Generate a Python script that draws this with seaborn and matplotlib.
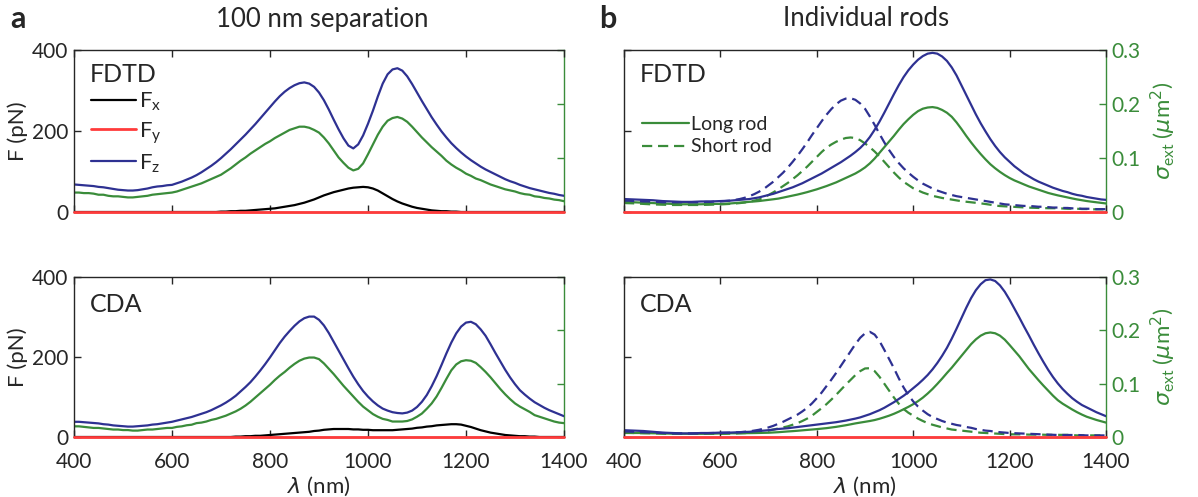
import matplotlib
matplotlib.use("Agg")
import matplotlib.pyplot as plt
from matplotlib.lines import Line2D
import seaborn as sns

# ---------------------------------------------------------------- data
LAMBDA = list(range(400, 1401, 10))  # wavelength grid (nm)

# (a) dimer, 100 nm separation -- FDTD
A_FDTD_FX = [0] * 30 + [
    1, 1, 2, 2, 3, 3, 4, 5, 6, 7,
    8, 9, 11, 13, 15, 17, 20, 23, 27, 31,
    36, 41, 45, 49, 52, 55, 58, 60, 61, 62,
    61, 58, 53, 46, 39, 32, 26, 21, 17, 13,
    10, 8, 6, 4, 3, 2, 2, 1, 1] + [0] * 22
A_FDTD_FZ = [68, 67, 66, 65, 64, 62, 61, 59, 57, 55, 54,
             53, 53, 54, 56, 58, 61, 63, 64, 66, 67,
             71, 75, 80, 85, 91, 98, 106, 114, 123, 133,
             144, 155, 167, 179, 191, 204, 217, 231, 245, 259,
             273, 286, 297, 306, 313, 318, 320, 317, 309, 295,
             276, 253, 228, 204, 182, 164, 157, 167, 189, 218,
             250, 285, 317, 340, 352, 355, 349, 335, 316, 295,
             274, 254, 234, 216, 199, 184, 170, 158, 147, 137,
             128, 120, 112, 105, 99, 93, 87, 81, 76, 72,
             67, 63, 59, 56, 53, 50, 47, 45, 42, 40]
A_FDTD_SIG = [0.036, 0.036, 0.035, 0.035, 0.034, 0.032, 0.032, 0.030, 0.029, 0.029, 0.028,
              0.027, 0.027, 0.028, 0.029, 0.030, 0.032, 0.033, 0.034, 0.035, 0.036,
              0.038, 0.041, 0.044, 0.047, 0.050, 0.053, 0.057, 0.061, 0.065, 0.069,
              0.075, 0.081, 0.088, 0.095, 0.101, 0.108, 0.114, 0.120, 0.126, 0.131,
              0.137, 0.142, 0.147, 0.152, 0.155, 0.158, 0.158, 0.156, 0.152, 0.147,
              0.138, 0.127, 0.114, 0.101, 0.091, 0.082, 0.077, 0.080, 0.090, 0.107,
              0.125, 0.143, 0.158, 0.169, 0.174, 0.176, 0.173, 0.167, 0.158, 0.148,
              0.138, 0.129, 0.120, 0.112, 0.104, 0.095, 0.088, 0.082, 0.077, 0.071,
              0.067, 0.062, 0.059, 0.055, 0.051, 0.048, 0.045, 0.042, 0.040, 0.038,
              0.035, 0.033, 0.032, 0.029, 0.028, 0.026, 0.025, 0.023, 0.022, 0.020]

# (a) dimer, 100 nm separation -- CDA
A_CDA_FX = [0] * 33 + [
    1, 1, 2, 2, 3, 3, 4,
    5, 6, 7, 8, 9, 10, 11, 12, 13, 15,
    16, 18, 19, 20, 20, 20, 20, 19, 19, 18,
    18, 17, 17, 17, 17, 17, 18, 19, 20, 21,
    23, 24, 26, 27, 29, 30, 31, 32, 32, 31,
    28, 25, 21, 17, 14, 11, 9, 7, 5, 4,
    3, 2, 2, 1, 1] + [0] * 6
A_CDA_FZ = [38, 38, 37, 36, 35, 34, 32, 31, 29, 28, 27,
            26, 26, 27, 28, 29, 31, 32, 34, 36, 38,
            41, 44, 47, 50, 54, 58, 62, 67, 73, 79,
            86, 94, 103, 114, 125, 137, 151, 166, 182, 199,
            217, 235, 251, 265, 278, 289, 297, 301, 301, 293,
            279, 260, 238, 216, 194, 172, 151, 132, 115, 101,
            89, 79, 71, 66, 62, 60, 59, 61, 66, 75,
            88, 105, 127, 152, 180, 209, 236, 259, 276, 286,
            288, 282, 269, 253, 232, 210, 189, 168, 149, 132,
            117, 106, 96, 87, 80, 73, 67, 62, 57, 52]
A_CDA_SIG = [0.020, 0.020, 0.019, 0.018, 0.017, 0.017, 0.016, 0.015, 0.014, 0.014, 0.013,
             0.013, 0.012, 0.012, 0.013, 0.014, 0.014, 0.015, 0.016, 0.017, 0.017,
             0.019, 0.020, 0.022, 0.023, 0.026, 0.027, 0.029, 0.032, 0.034, 0.037,
             0.040, 0.044, 0.048, 0.053, 0.059, 0.066, 0.074, 0.082, 0.090, 0.098,
             0.107, 0.115, 0.122, 0.130, 0.137, 0.143, 0.147, 0.149, 0.149, 0.146,
             0.138, 0.128, 0.118, 0.107, 0.096, 0.086, 0.076, 0.066, 0.057, 0.050,
             0.043, 0.038, 0.034, 0.032, 0.029, 0.029, 0.029, 0.030, 0.033, 0.038,
             0.044, 0.053, 0.063, 0.076, 0.092, 0.109, 0.125, 0.136, 0.142, 0.144,
             0.143, 0.139, 0.131, 0.122, 0.112, 0.101, 0.090, 0.080, 0.071, 0.063,
             0.057, 0.052, 0.047, 0.041, 0.038, 0.035, 0.032, 0.029, 0.027, 0.026]

# (b) individual rods -- FDTD
B_FDTD_FZ_LONG = [32, 31.5, 31, 30.5, 30, 29.5, 29, 28, 27, 26.5, 26,
                  25.5, 25, 25, 25, 25.5, 26, 26, 26, 26.5, 27,
                  27.5, 28, 29, 30, 31, 32, 34, 36, 39, 42,
                  45, 49, 53, 57, 61, 66, 71, 77, 83, 89,
                  95, 102, 109, 116, 123, 131, 139, 148, 158, 170,
                  185, 203, 223, 245, 268, 291, 313, 333, 350, 364,
                  376, 385, 391, 393, 391, 384, 373, 357, 337, 313,
                  289, 265, 241, 219, 199, 180, 163, 148, 135, 124,
                  113, 104, 95, 88, 81, 75, 70, 65, 60, 56,
                  52, 49, 45, 42, 40, 37, 35, 33, 31, 30]
B_FDTD_FZ_SHORT = [28, 28, 27, 27, 26, 26, 25, 25, 24, 24, 24,
                   24, 24, 24, 24, 24, 24, 25, 25, 26, 26,
                   27, 28, 30, 32, 35, 39, 44, 50, 57, 66,
                   75, 86, 97, 110, 124, 139, 155, 172, 190, 207,
                   224, 240, 254, 266, 275, 280, 281, 277, 268, 255,
                   236, 215, 193, 172, 153, 136, 121, 108, 97, 87,
                   78, 70, 64, 58, 53, 49, 45, 42, 39, 37,
                   35, 33, 31, 29, 27, 25, 23, 21, 19, 18,
                   17, 16, 15, 15, 14, 13, 13, 12, 11, 11,
                   10, 10, 9, 9, 8, 8, 8, 7, 7, 7]
B_FDTD_SIG_LONG = [0.0188, 0.0184, 0.018, 0.0176, 0.0173, 0.0169, 0.0165, 0.0161, 0.0158, 0.0154, 0.015,
                   0.0146, 0.0143, 0.0143, 0.0143, 0.0143, 0.0143, 0.0146, 0.015, 0.015, 0.015,
                   0.0154, 0.0158, 0.0165, 0.0173, 0.018, 0.0188, 0.0195, 0.0203, 0.0214, 0.0225,
                   0.0236, 0.0248, 0.0266, 0.0285, 0.0304, 0.0323, 0.0345, 0.0368, 0.0394, 0.042,
                   0.045, 0.048, 0.0514, 0.0548, 0.0589, 0.063, 0.0671, 0.0713, 0.0765, 0.0825,
                   0.09, 0.099, 0.1095, 0.12, 0.1305, 0.141, 0.1523, 0.1628, 0.1718, 0.18,
                   0.1868, 0.1913, 0.1935, 0.1943, 0.1928, 0.189, 0.1838, 0.1763, 0.1658, 0.1538,
                   0.141, 0.129, 0.1178, 0.1073, 0.0975, 0.0885, 0.081, 0.0743, 0.0683, 0.063,
                   0.0585, 0.0548, 0.051, 0.0473, 0.0443, 0.0413, 0.0383, 0.0353, 0.033, 0.0308,
                   0.0289, 0.027, 0.0251, 0.0233, 0.0218, 0.0203, 0.0191, 0.018, 0.0169, 0.0158]
B_FDTD_SIG_SHORT = [0.0165, 0.0163, 0.016, 0.0155, 0.015, 0.0145, 0.014, 0.0138, 0.0135, 0.0133, 0.013,
                    0.013, 0.013, 0.013, 0.013, 0.013, 0.013, 0.0133, 0.0135, 0.0138, 0.014,
                    0.0145, 0.015, 0.0157, 0.0165, 0.0175, 0.019, 0.021, 0.023, 0.027, 0.0315,
                    0.0365, 0.042, 0.048, 0.054, 0.061, 0.068, 0.076, 0.084, 0.093, 0.102,
                    0.111, 0.119, 0.125, 0.130, 0.134, 0.137, 0.138, 0.137, 0.133, 0.127,
                    0.120, 0.112, 0.103, 0.093, 0.083, 0.073, 0.064, 0.056, 0.050, 0.044,
                    0.040, 0.036, 0.033, 0.030, 0.028, 0.026, 0.0245, 0.023, 0.0215, 0.020,
                    0.019, 0.018, 0.017, 0.016, 0.0148, 0.0135, 0.012, 0.011, 0.0105, 0.010,
                    0.0095, 0.009, 0.0085, 0.008, 0.0078, 0.0075, 0.0073, 0.007, 0.007, 0.007,
                    0.0065, 0.006, 0.006, 0.006, 0.0055, 0.0055, 0.005, 0.005, 0.005, 0.005]

# (b) individual rods -- CDA
B_CDA_FZ_LONG = [17, 16.5, 16, 15.5, 15, 14, 13, 12, 11, 10.5, 10,
                 9.5, 9, 9, 9, 9.5, 10, 10, 10, 10.5, 11,
                 11, 11, 11.5, 12, 12.5, 13, 14, 15, 16, 17,
                 18.5, 20, 21, 22, 23.5, 25, 26.5, 28, 29.5, 31,
                 32.5, 34, 35.5, 37, 39, 41, 43.5, 46, 49, 53,
                 57, 62, 67, 73, 80, 87, 95, 103, 112, 122,
                 132, 143, 155, 169, 185, 203, 223, 246, 271, 297,
                 323, 347, 367, 382, 392, 394, 390, 379, 363, 343,
                 321, 299, 276, 254, 231, 209, 188, 168, 150, 134,
                 120, 108, 97, 88, 80, 74, 68, 62, 57, 52]
B_CDA_FZ_SHORT = [14, 13.5, 13, 12.5, 12, 11.5, 11, 10.5, 10, 9.5, 9,
                  9, 9, 9, 9, 9, 9, 9.5, 10, 10, 10,
                  10.5, 11, 11.5, 12, 13, 14, 16, 18, 21, 24,
                  28, 33, 38, 44, 50, 56, 64, 73, 84, 97,
                  111, 127, 143, 160, 178, 196, 214, 232, 248, 259,
                  263, 256, 240, 218, 195, 172, 147, 124, 105, 89,
                  76, 66, 57, 50, 45, 40, 36, 33, 30, 28,
                  25, 23, 20, 18, 16, 15, 13, 12, 11, 10,
                  9.5, 9, 8.5, 8, 7.5, 7, 6.5, 6, 5.5, 5,
                  5, 5, 5, 5, 4.5, 4, 4, 4, 4, 4]
B_CDA_SIG_LONG = [0.008, 0.0078, 0.0075, 0.0075, 0.0075, 0.0073, 0.007, 0.007, 0.0068, 0.0064, 0.0062,
                  0.006, 0.006, 0.006, 0.006, 0.006, 0.006, 0.006, 0.0062, 0.0064, 0.0066,
                  0.0068, 0.007, 0.007, 0.0071, 0.0072, 0.0073, 0.0074, 0.0076, 0.0078, 0.008,
                  0.0085, 0.009, 0.0097, 0.0104, 0.011, 0.0117, 0.0125, 0.0133, 0.014, 0.0148,
                  0.0157, 0.0166, 0.0178, 0.019, 0.0205, 0.022, 0.0237, 0.0255, 0.027, 0.0285,
                  0.030, 0.0318, 0.0342, 0.037, 0.040, 0.0435, 0.0475, 0.052, 0.0565, 0.0615,
                  0.0672, 0.0738, 0.0815, 0.090, 0.0995, 0.1095, 0.120, 0.130, 0.141, 0.152,
                  0.163, 0.174, 0.183, 0.190, 0.1945, 0.196, 0.1945, 0.190, 0.1825, 0.1725,
                  0.162, 0.1515, 0.1395, 0.1275, 0.117, 0.1065, 0.0965, 0.087, 0.0775, 0.069,
                  0.0625, 0.057, 0.0515, 0.0465, 0.042, 0.038, 0.035, 0.032, 0.0295, 0.027]
B_CDA_SIG_SHORT = [0.0075, 0.0075, 0.0075, 0.0073, 0.007, 0.007, 0.007, 0.0065, 0.0062, 0.006, 0.006,
                   0.006, 0.006, 0.006, 0.006, 0.006, 0.006, 0.006, 0.006, 0.006, 0.006,
                   0.006, 0.0062, 0.0065, 0.007, 0.0073, 0.0077, 0.0083, 0.009, 0.0103, 0.012,
                   0.014, 0.016, 0.018, 0.020, 0.023, 0.026, 0.030, 0.0345, 0.040, 0.047,
                   0.054, 0.0615, 0.070, 0.079, 0.0885, 0.098, 0.107, 0.116, 0.1235, 0.1285,
                   0.129, 0.1235, 0.113, 0.100, 0.087, 0.074, 0.0625, 0.0525, 0.0455, 0.040,
                   0.0345, 0.030, 0.026, 0.023, 0.0205, 0.018, 0.016, 0.014, 0.013, 0.012,
                   0.011, 0.010, 0.009, 0.008, 0.0075, 0.007, 0.0065, 0.006, 0.0055, 0.005,
                   0.005, 0.005, 0.0048, 0.0045, 0.0045, 0.0045, 0.0043, 0.004, 0.004, 0.004,
                   0.004, 0.004, 0.0035, 0.003, 0.003, 0.003, 0.003, 0.003, 0.003, 0.003]

# F_y vanishes by symmetry in every configuration
FY = [0.0] * len(LAMBDA)

X_TICKS = [400, 600, 800, 1000, 1200, 1400]
F_TICKS = [0, 200, 400]
SIG_TICKS = [0, 0.1, 0.2, 0.3]
SIG_TICKLABELS = ["0", "0.1", "0.2", "0.3"]

# ---------------------------------------------------------------- style
BLUE = "#2e3192"
GREEN = "#3a8c3a"
RED = "#ff3b3b"
BLACK = "black"
LW = 1.6
DASH = (0, (4.6, 2.6))
TICK_FS = 15

sns.set_style("ticks")
plt.rcParams["font.family"] = ["Lato", "DejaVu Sans"]
plt.rcParams["mathtext.fontset"] = "dejavusans"
plt.rcParams["axes.linewidth"] = 1.0

W, H = 1198, 497
fig = plt.figure(figsize=(W / 100, H / 100), dpi=100)


def box(x0, y0, x1, y1):
    return [x0 / W, 1 - y1 / H, (x1 - x0) / W, (y1 - y0) / H]


def line(ax, y, color, dashed=False, z=2):
    kw = dict(linestyle=DASH) if dashed else {}
    sns.lineplot(x=LAMBDA, y=y, ax=ax, color=color, linewidth=LW, estimator=None,
                 zorder=z, solid_joinstyle="round", dash_joinstyle="round", **kw)


def frame(ax, tw, left_labels, right_labels, bottom_labels):
    ax.set_xlim(400, 1400)
    ax.set_ylim(0, 400)
    ax.set_xticks(X_TICKS)
    ax.set_yticks(F_TICKS)
    ax.tick_params(direction="in", top=True, right=False, length=5, width=1,
                   labelsize=TICK_FS, labelbottom=bottom_labels, labelleft=left_labels)
    ax.tick_params(axis="x", pad=11)
    ax.tick_params(axis="y", pad=4)
    ax.spines["right"].set_visible(False)
    tw.set_ylim(0, 0.3)
    tw.set_yticks(SIG_TICKS)
    tw.set_yticklabels(SIG_TICKLABELS)
    tw.tick_params(direction="in", length=5, width=1, colors=GREEN, labelsize=TICK_FS,
                   pad=4, labelright=right_labels)
    for s in ("left", "top", "bottom"):
        tw.spines[s].set_visible(False)
    tw.spines["right"].set_color(GREEN)
    ax.set_xlabel("")
    ax.set_ylabel("")
    tw.set_ylabel("")


def host_on_top(ax, tw):
    tw.set_zorder(ax.get_zorder() - 1)
    ax.patch.set_visible(False)


def zero_line(ax):
    ax.plot(LAMBDA, FY, color=RED, lw=LW + 0.4, clip_on=False, zorder=5)


XLABEL = r"$\lambda$ (nm)"

# ---------------------------------------------------------------- panel a
axA1 = fig.add_axes(box(74, 50, 564, 212))
twA1 = axA1.twinx()
line(twA1, A_FDTD_SIG, GREEN)
line(axA1, A_FDTD_FX, BLACK)
line(axA1, A_FDTD_FZ, BLUE)
frame(axA1, twA1, True, False, False)
zero_line(axA1)

axA2 = fig.add_axes(box(74, 277, 564, 437))
twA2 = axA2.twinx()
line(twA2, A_CDA_SIG, GREEN)
line(axA2, A_CDA_FX, BLACK)
line(axA2, A_CDA_FZ, BLUE)
frame(axA2, twA2, True, False, True)
zero_line(axA2)

for ax in (axA1, axA2):
    ax.set_ylabel("F (pN)", fontsize=16, labelpad=3)
axA2.set_xlabel(XLABEL, fontsize=16, labelpad=2)

host_on_top(axA1, twA1)
host_on_top(axA2, twA2)

handles = [Line2D([], [], color=BLACK, lw=LW),
           Line2D([], [], color=RED, lw=LW + 0.4),
           Line2D([], [], color=BLUE, lw=LW)]
labels = [r"F$_{\mathregular{x}}$", r"F$_{\mathregular{y}}$", r"F$_{\mathregular{z}}$"]
axA1.legend(handles, labels, loc="upper left", bbox_to_anchor=(0.035, 0.75),
            frameon=False, fontsize=16, handlelength=2.0, handletextpad=0.15,
            labelspacing=0.3, borderaxespad=0, borderpad=0)

axA1.text(0.033, 0.85, "FDTD", transform=axA1.transAxes, fontsize=18, va="center", ha="left")
axA2.text(0.033, 0.825, "CDA", transform=axA2.transAxes, fontsize=18, va="center", ha="left")

# ---------------------------------------------------------------- panel b
axB1 = fig.add_axes(box(624, 50, 1106, 212))
twB1 = axB1.twinx()
line(twB1, B_FDTD_SIG_LONG, GREEN)
line(twB1, B_FDTD_SIG_SHORT, GREEN, dashed=True)
line(axB1, B_FDTD_FZ_LONG, BLUE)
line(axB1, B_FDTD_FZ_SHORT, BLUE, dashed=True)
frame(axB1, twB1, False, True, False)
zero_line(axB1)

axB2 = fig.add_axes(box(624, 277, 1106, 437))
twB2 = axB2.twinx()
line(twB2, B_CDA_SIG_LONG, GREEN)
line(twB2, B_CDA_SIG_SHORT, GREEN, dashed=True)
line(axB2, B_CDA_FZ_LONG, BLUE)
line(axB2, B_CDA_FZ_SHORT, BLUE, dashed=True)
frame(axB2, twB2, False, True, True)
zero_line(axB2)
axB2.set_xlabel(XLABEL, fontsize=16, labelpad=2)

sig_label = r"$\sigma_{\mathregular{ext}}$ ($\mu\mathregular{m}^{2}$)"
for tw in (twB1, twB2):
    tw.set_ylabel(sig_label, fontsize=16, color=GREEN, labelpad=6)

host_on_top(axB1, twB1)
host_on_top(axB2, twB2)

rod_handles = [Line2D([], [], color=GREEN, lw=LW),
               Line2D([], [], color=GREEN, lw=LW, linestyle=DASH)]
axB1.legend(rod_handles, ["Long rod", "Short rod"], loc="upper left",
            bbox_to_anchor=(0.037, 0.595), frameon=False, fontsize=14,
            handlelength=2.4, handletextpad=0.15, labelspacing=0.3,
            borderaxespad=0, borderpad=0)

axB1.text(0.033, 0.85, "FDTD", transform=axB1.transAxes, fontsize=18, va="center", ha="left")
axB2.text(0.033, 0.825, "CDA", transform=axB2.transAxes, fontsize=18, va="center", ha="left")

# ---------------------------------------------------------------- headers
fig.text(18 / W, 1 - 19 / H, "a", fontsize=22, fontweight="bold", ha="center", va="center")
fig.text(608 / W, 1 - 19 / H, "b", fontsize=22, fontweight="bold", ha="center", va="center")
fig.text(322 / W, 1 - 19 / H, "100 nm separation", fontsize=18.5, ha="center", va="center")
fig.text(866 / W, 1 - 19 / H, "Individual rods", fontsize=18.5, ha="center", va="center")

fig.savefig("out.png", dpi=100)
